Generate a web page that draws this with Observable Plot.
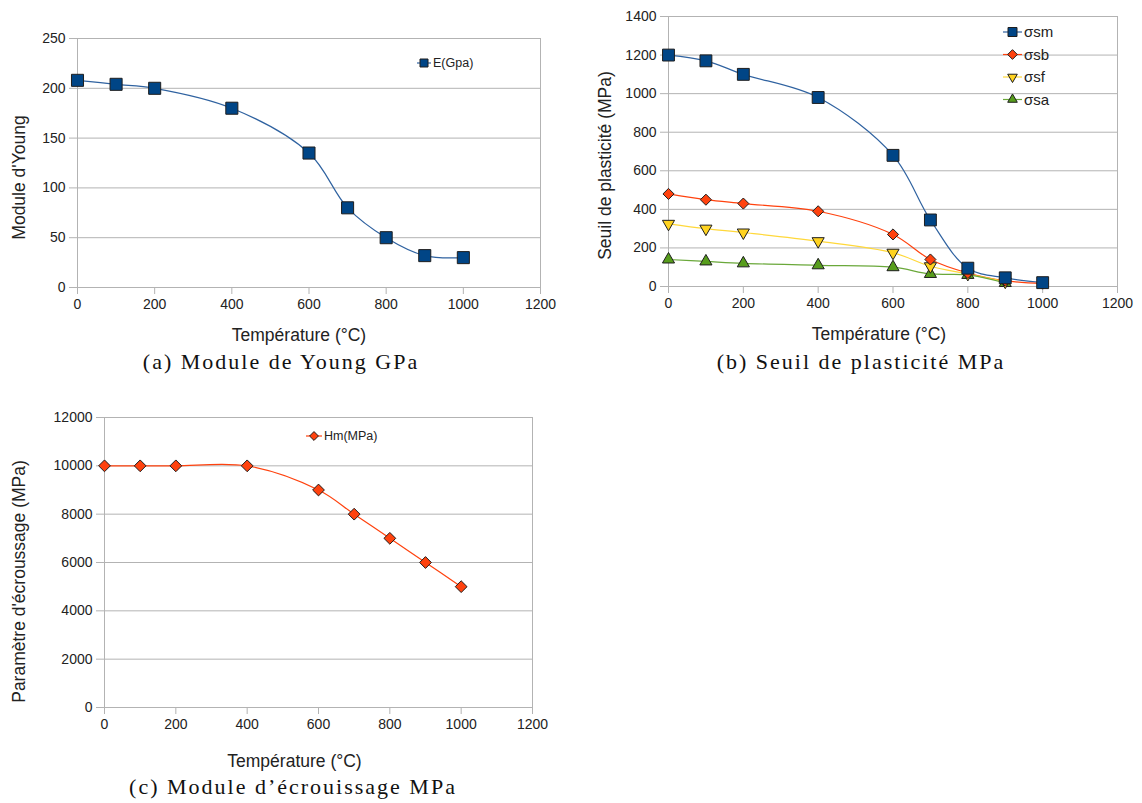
<!DOCTYPE html>
<html><head><meta charset="utf-8">
<script src="https://cdn.jsdelivr.net/npm/d3@7"></script>
<script src="https://cdn.jsdelivr.net/npm/@observablehq/plot@0.6"></script>
<style>
body{margin:0;background:#fff;}
#root{position:relative;width:1142px;height:803px;overflow:hidden;background:#fff;font-family:"Liberation Sans",Arial,sans-serif;}
.panel{position:absolute;}
.caption{position:absolute;font-family:"Liberation Serif","DejaVu Serif",serif;font-size:22px;letter-spacing:2px;color:#111;white-space:nowrap;transform:translate(-50%,-50%);}
.legend{position:absolute;overflow:visible;}
</style>
</head><body><div id="root"></div>
<script>
// ---- data ----
const temps = [0, 100, 200, 400, 600, 700, 800, 900, 1000];
const youngE = [208, 204, 200, 180, 135, 80, 50, 32, 30];
const sigmaSm = [1200, 1170, 1100, 980, 680, 345, 95, 45, 20];
const sigmaSb = [480, 450, 430, 390, 270, 140, 70, 30, 15];
const sigmaSf = [325, 300, 280, 235, 175, 105, 65, 25];
const sigmaSa = [140, 130, 120, 110, 100, 65, 60, 18];
const hardening = [10000, 10000, 10000, 10000, 9000, 8000, 7000, 6000, 5000];
const xTicks = [0, 200, 400, 600, 800, 1000, 1200];
const yTicksA = [0, 50, 100, 150, 200, 250];
const yTicksB = [0, 200, 400, 600, 800, 1000, 1200, 1400];
const yTicksC = [0, 2000, 4000, 6000, 8000, 10000, 12000];
const seriesNamesB = ["σsm", "σsb", "σsf", "σsa"];
const xLabel = "Température (°C)";
const captions = ["(a) Module de Young GPa", "(b) Seuil de plasticité MPa", "(c) Module d’écrouissage MPa"];

const BLUE = "#004586", RED = "#ff420e", YELLOW = "#ffd320", GREEN = "#579d1c";
const GRID = "#b3b3b3", TXT = "#222", EDGE = "#1e1e1e";

const rows = vals => vals.map((v, i) => ({t: temps[i], v}));
const root = document.getElementById("root");

function panel(cfg) {
  const marks = [
    Plot.ruleY(cfg.yTicks, {stroke: GRID}),
    Plot.ruleX([0, 1200], {stroke: GRID}),
    Plot.axisY({ticks: cfg.yTicks, tickSize: 8, tickPadding: 4, stroke: GRID, fill: TXT, tickFormat: d => String(d), label: null}),
    Plot.axisX({ticks: xTicks, tickSize: 7, tickPadding: 5, stroke: GRID, fill: TXT, tickFormat: d => String(d), label: null})
  ];
  for (const s of cfg.series) {
    marks.push(Plot.line(rows(s.values), {x: "t", y: "v", stroke: s.line || s.color, strokeWidth: 1.2, curve: "catmull-rom"}));
  }
  for (const s of cfg.dotOrder.map(i => cfg.series[i])) {
    marks.push(Plot.dot(rows(s.values), {x: "t", y: "v", symbol: s.symbol, r: s.r, rotate: s.rotate || 0, fill: s.color, stroke: EDGE, strokeWidth: 1}));
  }
  marks.push(Plot.text([cfg.ylabel], {frameAnchor: "left", textAnchor: "middle", lineAnchor: "middle", rotate: -90, dx: cfg.ylDx, dy: cfg.ylDy, fontSize: 17.5, fill: TXT}));
  marks.push(Plot.text([xLabel], {frameAnchor: "bottom", textAnchor: "middle", lineAnchor: "middle", dx: cfg.xlDx, dy: cfg.xlDy, fontSize: 17.5, fill: TXT}));
  const svg = Plot.plot({
    width: cfg.width, height: cfg.height,
    marginLeft: cfg.m[0], marginRight: cfg.m[1], marginTop: cfg.m[2], marginBottom: cfg.m[3],
    x: {domain: [0, 1200]},
    y: {domain: [0, cfg.yTicks[cfg.yTicks.length - 1]]},
    style: {fontFamily: '"Liberation Sans", Arial, sans-serif', fontSize: "14px", background: "transparent", overflow: "visible"},
    marks
  });
  svg.classList.add("panel");
  svg.style.left = cfg.left + "px";
  svg.style.top = cfg.top + "px";
  root.appendChild(svg);
}

function legend(left, top, items, fontSize, lineHalf, gap) {
  const w = 140, h = 20 + gap * items.length;
  const svg = d3.create("svg").attr("class", "legend").attr("width", w).attr("height", h)
    .style("left", left + "px").style("top", top + "px");
  items.forEach((it, i) => {
    const cy = 10 + i * gap, cx = 10 + lineHalf;
    svg.append("line").attr("x1", cx - lineHalf).attr("x2", cx + lineHalf).attr("y1", cy).attr("y2", cy)
      .attr("stroke", it.line || it.color).attr("stroke-width", 1.2);
    svg.append("path").attr("d", d3.symbol(it.type, it.size)())
      .attr("transform", `translate(${cx},${cy}) rotate(${it.rotate || 0})`)
      .attr("fill", it.color).attr("stroke", EDGE).attr("stroke-width", 1);
    svg.append("text").attr("x", cx + lineHalf + 2).attr("y", cy).attr("dy", "0.35em")
      .attr("font-size", fontSize).attr("fill", TXT).text(it.label);
  });
  root.appendChild(svg.node());
}

function caption(text, cx, cy) {
  const d = document.createElement("div");
  d.className = "caption";
  d.textContent = text;
  d.style.left = cx + "px";
  d.style.top = cy + "px";
  root.appendChild(d);
}

// (a)
panel({
  left: 0, top: 0, width: 570, height: 345, m: [77, 30, 38, 58],
  yTicks: yTicksA, ylabel: "Module d'Young", ylDx: -58, ylDy: 14.5, xlDx: -10, xlDy: 48,
  series: [{values: youngE, color: BLUE, line: "#2f62a0", symbol: "square", r: 6.8}],
  dotOrder: [0]
});
legend(407, 53, [{label: "E(Gpa)", color: BLUE, line: "#2f62a0", type: d3.symbolSquare, size: 64}], 12.5, 7, 20);

// (b)
panel({
  left: 580, top: 0, width: 562, height: 345, m: [88, 25, 16, 59],
  yTicks: yTicksB, ylabel: "Seuil de plasticité (MPa)", ylDx: -63, ylDy: 14, xlDx: -14, xlDy: 48,
  series: [
    {values: sigmaSm, color: BLUE, line: "#2f62a0", symbol: "square", r: 6.7},
    {values: sigmaSb, color: RED, symbol: "diamond2", r: 5},
    {values: sigmaSf, color: YELLOW, line: "#ffd83a", symbol: "triangle", r: 4.5, rotate: 180},
    {values: sigmaSa, color: GREEN, line: "#6aa83a", symbol: "triangle", r: 4.5}
  ],
  dotOrder: [3, 2, 1, 0]
});
legend(993, 22, [
  {label: seriesNamesB[0], color: BLUE, line: "#2f62a0", type: d3.symbolSquare, size: 81},
  {label: seriesNamesB[1], color: RED, type: d3.symbolDiamond2, size: 60},
  {label: seriesNamesB[2], color: YELLOW, line: "#ffd83a", type: d3.symbolTriangle, size: 40, rotate: 180},
  {label: seriesNamesB[3], color: GREEN, line: "#6aa83a", type: d3.symbolTriangle, size: 40}
], 15, 9.5, 22.5);

// (c)
panel({
  left: 0, top: 400, width: 570, height: 375, m: [104, 38, 17, 68],
  yTicks: yTicksC, ylabel: "Paramètre d'écroussage (MPa)", ylDx: -85, ylDy: 19, xlDx: -24, xlDy: 54,
  series: [{values: hardening, color: RED, symbol: "diamond2", r: 5.3}],
  dotOrder: [0]
});
legend(296, 426, [{label: "Hm(MPa)", color: RED, type: d3.symbolDiamond2, size: 50}], 12.5, 8, 20);

caption(captions[0], 281, 362);
caption(captions[1], 861, 362);
caption(captions[2], 293, 787);
</script>
</body></html>
